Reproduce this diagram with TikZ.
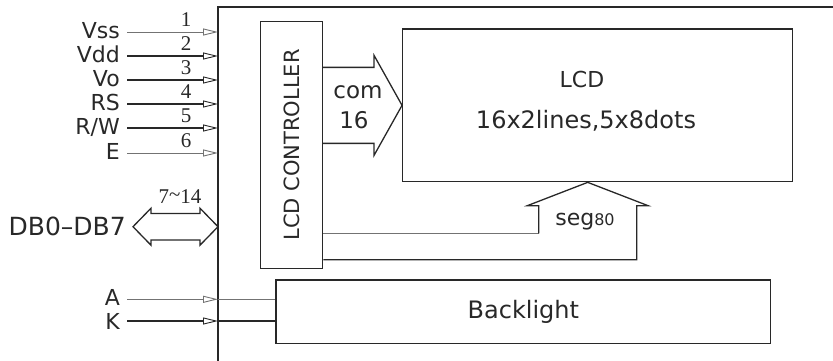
\documentclass[tikz,border=0pt]{standalone}
\usepackage{fontspec}
\setmainfont{Liberation Serif}
\newfontfamily\cadfont{DejaVu Sans}
\usetikzlibrary{arrows.meta, calc, positioning}
\definecolor{ink}{RGB}{40, 40, 40}
\definecolor{faint}{RGB}{115, 115, 115}
\tikzset{
    box/.style={rectangle, draw=ink, line width=1.3pt, inner sep=0pt, text=ink},
    txt/.style={font=\cadfont\fontsize{#1}{#1}\selectfont, inner sep=0pt, text=ink},
    txt/.default=22,
    pinlbl/.style={txt, anchor=base east, inner xsep=7pt, inner ysep=0pt},
    num/.style={font=\fontsize{21}{21}\selectfont, inner sep=0pt, text=ink},
    wire/.style={draw=ink, line width=1.3pt},
    faintwire/.style={draw=faint, line width=0.8pt},
    pin/.style={-{Triangle[open, length=15pt, width=7pt, line width=0.9pt]}}
}
\begin{document}
\begin{tikzpicture}[x=1pt, y=-1pt]
        \clip (0,0) rectangle (833,360);
        % frame of the module, runs off the right and bottom
        \draw[wire] (218,380) |- (860,7);

        % pins
        \node[pinlbl] (vss) at (127,38) {Vss};
        \node[pinlbl] (vdd) at (127,62) {Vdd};
        \node[pinlbl] (vo) at (127,86) {Vo};
        \node[pinlbl] (rs) at (127,110) {RS};
        \node[pinlbl] (rw) at (127,134) {R/W};
        \node[pinlbl] (en) at (127,159) {E};
        \node[pinlbl] (pa) at (127,305) {A};
        \node[pinlbl] (pk) at (127,329) {K};
        \coordinate (p1) at (218,32);
        \coordinate (p2) at (218,56);
        \coordinate (p3) at (218,80);
        \coordinate (p4) at (218,104);
        \coordinate (p5) at (218,128);
        \coordinate (p6) at (218,153);
        \coordinate (p15) at (218,299.3);
        \coordinate (p16) at (218,321);

        \draw[faintwire, pin] (vss.base east |- p1) -- node[num, above=5pt, pos=0.65] {1} (p1);
        \draw[wire, pin] (vdd.base east |- p2) -- node[num, above=5pt, pos=0.65] {2} (p2);
        \draw[wire, pin] (vo.base east |- p3) -- node[num, above=5pt, pos=0.65] {3} (p3);
        \draw[wire, pin] (rs.base east |- p4) -- node[num, above=5pt, pos=0.65] {4} (p4);
        \draw[wire, pin] (rw.base east |- p5) -- node[num, above=5pt, pos=0.65] {5} (p5);
        \draw[faintwire, pin] (en.base east |- p6) -- node[num, above=5pt, pos=0.65] {6} (p6);

        % data bus
        \node[txt=25, anchor=base east] (db) at (126,235) {DB0–DB7};
        \coordinate (dbl) at (133,226.7);
        \coordinate (dbr) at (218,226.7);
        \draw[wire] (dbl) -- ++(18,-18.5) -- ++(0,5.2) -- ($(dbr)+(-18,-13.3)$) -- ++(0,-5.2) -- (dbr)
            -- ++(-18,18.5) -- ++(0,-5.2) -- ($(dbl)+(18,13.3)$) -- ++(0,5.2) -- cycle;
        \node[num, anchor=base] (dbnum) at (180,203) {7\raisebox{2pt}{\char`\~}14};

        % blocks
        \node[box, rotate=90, minimum width=246.6pt, minimum height=62.2pt, txt=21] (ctrl) at (291.6,145) {LCD CONTROLLER};
        \node[box, minimum width=390pt, minimum height=152.7pt] (lcd) at (597.7,105.35) {};
        \node[txt=22, anchor=base] (lcdname) at (582,87.3) {LCD};
        \node[txt=24, anchor=base] (lcdspec) at (586,128.3) {16x2lines,5x8dots};
        \node[box, minimum width=494.7pt, minimum height=63.3pt, txt=24] (back) at (523.35,311.65) {Backlight};

        % common lines
        \draw[wire] ($(lcd.west)+(-80,-38)$) -- ++(52,0) -- ++(0,-12) -- (lcd.west) -- ++(-28,50) -- ++(0,-12) -- ++(-52,0);
        \node[txt=23, anchor=base] (comlbl) at (358,98.3) {com};
        \node[txt=23, anchor=base] (comnum) at (354,128.3) {16};

        % segment lines
        \coordinate (segtip) at ($(lcd.south)+(-10,0)$);
        \coordinate (segl) at ($(segtip)+(-49,51)$);
        \coordinate (segr) at ($(segtip)+(49,77.3)$);
        \draw[faintwire] (ctrl.south |- segl) -- (segl);
        \draw[wire] (segl) -- ++(0,-27.7) -- ++(-11.3,0) -- (segtip) -- ++(60.3,23.3) -- ++(-11.3,0) -- (segr) -- (ctrl.south |- segr);
        \node[txt=22, anchor=base] (seglbl) at (585,225.7) {seg{\fontsize{16}{16}\selectfont 80}};

        % backlight supply
        \draw[faintwire, pin] (pa.base east |- p15) -- (p15);
        \draw[faintwire] (p15) -- (p15 -| back.west);
        \draw[wire, pin] (pk.base east |- p16) -- (p16);
        \draw[wire] (p16) -- (p16 -| back.west);
    \end{tikzpicture}
\end{document}
